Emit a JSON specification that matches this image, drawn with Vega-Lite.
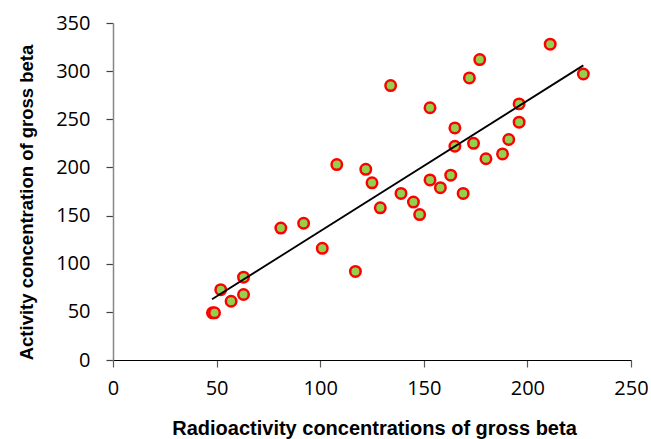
{
  "$schema": "https://vega.github.io/schema/vega-lite/v6.json",
  "width": 518,
  "height": 337,
  "autosize": "none",
  "padding": {"left": 113, "top": 23, "right": 20, "bottom": 79},
  "background": "white",
  "config": {"view": {"stroke": null}},
  "datasets": {
    "points": [
      {"x": 48, "y": 49}, {"x": 49, "y": 49}, {"x": 52, "y": 73}, {"x": 57, "y": 61},
      {"x": 63, "y": 68}, {"x": 63, "y": 86}, {"x": 81, "y": 137}, {"x": 92, "y": 142},
      {"x": 101, "y": 116}, {"x": 108, "y": 203}, {"x": 117, "y": 92}, {"x": 122, "y": 198},
      {"x": 125, "y": 184}, {"x": 129, "y": 158}, {"x": 134, "y": 285}, {"x": 139, "y": 173},
      {"x": 145, "y": 164}, {"x": 148, "y": 151}, {"x": 153, "y": 262}, {"x": 153, "y": 187},
      {"x": 158, "y": 179}, {"x": 163, "y": 192}, {"x": 165, "y": 241}, {"x": 165, "y": 222},
      {"x": 169, "y": 173}, {"x": 172, "y": 293}, {"x": 174, "y": 225}, {"x": 177, "y": 312},
      {"x": 180, "y": 209}, {"x": 188, "y": 214}, {"x": 191, "y": 229}, {"x": 196, "y": 266},
      {"x": 196, "y": 247}, {"x": 211, "y": 328}, {"x": 227, "y": 297}
    ],
    "trend": [
      {"x": 47.8, "y": 63},
      {"x": 227, "y": 306}
    ]
  },
  "layer": [
    {
      "data": {"name": "points"},
      "mark": {"type": "point", "shape": "circle", "filled": true, "fill": "#92D050", "stroke": "#FF0000", "strokeWidth": 2.5, "size": 110, "opacity": 1},
      "encoding": {
        "x": {
          "field": "x", "type": "quantitative",
          "scale": {"domain": [0, 250], "nice": false, "zero": false},
          "axis": {
            "title": "Radioactivity concentrations of gross beta",
            "titleFont": "Liberation Sans", "titleFontSize": 20, "titleFontWeight": "bold", "titleColor": "#000000",
            "titleX": 261, "titleY": 74, "titleBaseline": "alphabetic", "titleAnchor": null, "titleAlign": "center",
            "values": [0, 50, 100, 150, 200, 250],
            "grid": false,
            "domainColor": "#000000", "domainWidth": 1.2,
            "tickColor": "#595959", "tickSize": 7, "tickWidth": 1.2,
            "labelFont": "Open Sans", "labelFontSize": 20, "labelColor": "#000000", "labelPadding": 11,
            "labelFlush": false, "labelOverlap": false
          }
        },
        "y": {
          "field": "y", "type": "quantitative",
          "scale": {"domain": [0, 350], "nice": false, "zero": false},
          "axis": {
            "title": "Activity concentration of gross beta",
            "titleFont": "Liberation Sans", "titleFontSize": 18.5, "titleFontWeight": "bold", "titleColor": "#000000",
            "titleX": -81, "titleY": 179, "titleBaseline": "alphabetic", "titleAngle": -90, "titleAlign": "center", "titleAnchor": null,
            "values": [0, 50, 100, 150, 200, 250, 300, 350],
            "grid": false,
            "domainColor": "#868686", "domainWidth": 1.5,
            "tickColor": "#404040", "tickSize": 7, "tickWidth": 1.2,
            "labelFont": "Open Sans", "labelFontSize": 20, "labelColor": "#000000", "labelPadding": 16,
            "labelFlush": false, "labelOverlap": false
          }
        }
      }
    },
    {
      "data": {"name": "trend"},
      "mark": {"type": "line", "color": "#000000", "strokeWidth": 1.8},
      "encoding": {
        "x": {"field": "x", "type": "quantitative"},
        "y": {"field": "y", "type": "quantitative"}
      }
    }
  ]
}
